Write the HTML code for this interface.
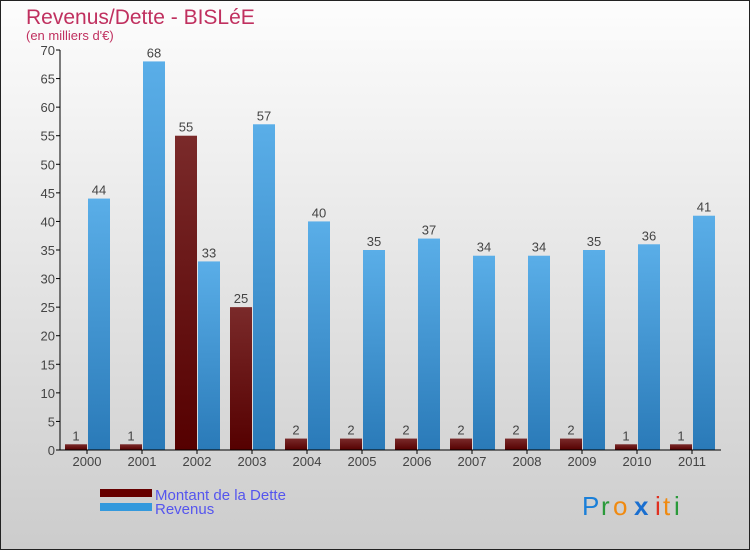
<!DOCTYPE html>
<html><head><meta charset="utf-8"><style>
body{margin:0}
#c{width:750px;height:550px;position:relative;font-family:"Liberation Sans",sans-serif}
</style></head><body>
<div id="c">
<svg id="s" width="750" height="550" xmlns="http://www.w3.org/2000/svg">
<defs>
<linearGradient id="bg" x1="0" y1="0" x2="0" y2="1"><stop offset="0" stop-color="#fdfdfd"/><stop offset="1" stop-color="#cccccc"/></linearGradient>
<linearGradient id="gr" x1="0" y1="0" x2="0" y2="1"><stop offset="0" stop-color="#5aaee8"/><stop offset="1" stop-color="#2a7ab8"/></linearGradient>
<linearGradient id="gd" x1="0" y1="0" x2="0" y2="1"><stop offset="0" stop-color="#7a2a2a"/><stop offset="1" stop-color="#550000"/></linearGradient>
</defs>
<rect x="0.5" y="0.5" width="749" height="549" fill="url(#bg)" stroke="#222"/>
<text x="26" y="24" font-size="21" fill="#c0305f">Revenus/Dette - BISLéE</text>
<text x="26" y="40" font-size="13" fill="#c0305f">(en milliers d'€)</text>
<g id="plot"></g>
<rect x="100" y="489" width="52" height="8" fill="#660000"/>
<rect x="100" y="503" width="52" height="8" fill="#3399dd"/>
<text x="155" y="500" font-size="15" fill="#5555ee">Montant de la Dette</text>
<text x="155" y="514" font-size="15" fill="#5555ee">Revenus</text>
<g font-size="26" font-family="Liberation Sans,sans-serif">
<text x="582" y="515" fill="#1a7fd8">P</text><text x="601" y="515" fill="#2a9a3a">r</text><text x="613" y="515" fill="#f08a10">o</text><text x="634" y="515" fill="#1a6fd0" font-weight="bold">x</text><text x="655" y="515" fill="#e03020">i</text><text x="663" y="515" fill="#f08a10">t</text><text x="674" y="515" fill="#2a9a3a">i</text>
</g>
</svg>
</div>
<script>
const years=["2000","2001","2002","2003","2004","2005","2006","2007","2008","2009","2010","2011"];
const dette=[1,1,55,25,2,2,2,2,2,2,1,1];
const revenus=[44,68,33,57,40,35,37,34,34,35,36,41];
const yTicks=[0,5,10,15,20,25,30,35,40,45,50,55,60,65,70];
const NS="http://www.w3.org/2000/svg";
const g=document.getElementById('plot');
const x0=60,y0=450,yTop=50,yMax=70,step=55,first=87,bw=22;
const y=v=>y0-(v/yMax)*(y0-yTop);
const xc=i=>first+i*step;
function mk(t,a,p){const e=document.createElementNS(NS,t);for(const k in a)e.setAttribute(k,a[k]);if(p!==undefined)e.textContent=p;g.appendChild(e);return e;}
yTicks.forEach(t=>{
 const l=mk('line',{x1:x0-4,x2:x0,y1:y(t),y2:y(t),stroke:'#000'});
 
 
 const tx=mk('text',{x:x0-5,y:y(t)+5,'font-size':13,fill:'#444','text-anchor':'end'},t);
 
 
});
years.forEach((yr,i)=>{
 const c=xc(i);
 const d=mk('rect',{x:c-bw,y:y(dette[i]),width:bw,height:y0-y(dette[i]),fill:'url(#gd)'});
 
 
 const r=mk('rect',{x:c+1,y:y(revenus[i]),width:bw,height:y0-y(revenus[i]),fill:'url(#gr)'});
 
 
 const dl=mk('text',{x:c-bw/2,y:y(dette[i])-4,'font-size':13,fill:'#444','text-anchor':'middle'},dette[i]);
 
 
 const rl=mk('text',{x:c+1+bw/2,y:y(revenus[i])-4,'font-size':13,fill:'#444','text-anchor':'middle'},revenus[i]);
 
 
 const tk=mk('line',{x1:c,x2:c,y1:y0,y2:y0+4,stroke:'#000'});
 
 
 const xl=mk('text',{x:c,y:y0+16,'font-size':13,fill:'#444','text-anchor':'middle'},yr);
 
 
});
const ya=mk('line',{x1:x0,x2:x0,y1:yTop,y2:y0,stroke:'#000'});


const xa=mk('line',{x1:x0,x2:721,y1:y0,y2:y0,stroke:'#000'});


</script>
</body></html>
